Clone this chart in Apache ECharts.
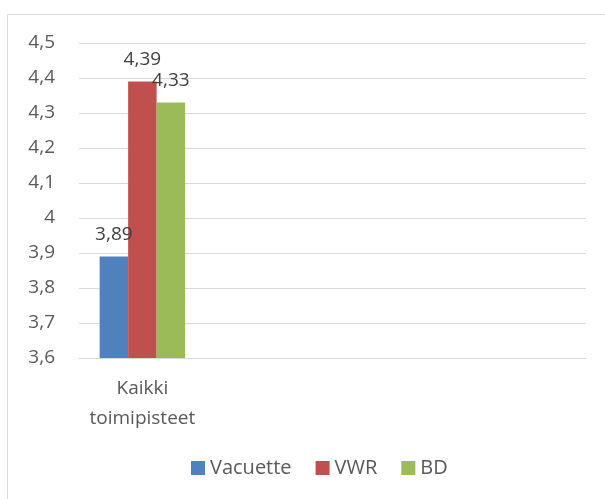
<!DOCTYPE html>
<html>
<head>
<meta charset="utf-8">
<script src="https://cdn.jsdelivr.net/npm/echarts@6/dist/echarts.min.js"></script>
<style>html,body{margin:0;padding:0;background:#fff}#c{width:605px;height:499px}</style>
</head>
<body>
<div id="c"></div>
<script>
const categories = ["Kaikki\ntoimipisteet", "", "", ""];
const seriesNames = ["Vacuette", "VWR", "BD"];
const vacuette = [3.89, null, null, null];
const vwr = [4.39, null, null, null];
const bd = [4.33, null, null, null];
const yTicks = [3.6, 3.7, 3.8, 3.9, 4.0, 4.1, 4.2, 4.3, 4.4, 4.5];

const colors = ["#4f81bd", "#c0504d", "#9bbb59"];
const font = "'Open Sans', Lato, sans-serif";
const txt = "#595959";
const fmt = v => String(v).replace('.', ',');

const chart = echarts.init(document.getElementById('c'), null, {renderer: 'canvas'});
const values = [vacuette, vwr, bd];
chart.setOption({
  animation: false,
  textStyle: {fontFamily: font},
  graphic: [{
    type: 'rect', shape: {x: 7.5, y: 14.5, width: 610, height: 500},
    style: {fill: 'none', stroke: '#d9d9d9', lineWidth: 1}, silent: true, z: -1
  }],
  grid: {left: 79, right: 19, top: 43, bottom: 141, containLabel: false},
  legend: {
    bottom: 16, left: 186, itemWidth: 14, itemHeight: 14, itemGap: 24,
    icon: 'rect',
    textStyle: {color: txt, fontSize: 20, fontFamily: font},
    data: seriesNames
  },
  xAxis: {
    type: 'category', data: categories,
    axisLine: {lineStyle: {color: '#d9d9d9', width: 1}},
    axisTick: {show: false},
    axisLabel: {color: txt, fontSize: 19, fontFamily: font, lineHeight: 30, margin: 16, interval: 0}
  },
  yAxis: {
    type: 'value', min: 3.6, max: 4.5, interval: 0.1,
    axisLine: {show: false}, axisTick: {show: false},
    splitLine: {lineStyle: {color: '#d9d9d9', width: 1}},
    axisLabel: {color: txt, fontSize: 19, fontFamily: font, margin: 24,
      formatter: v => fmt(Math.round(v * 10) / 10)}
  },
  series: seriesNames.map((n, i) => ({
    name: n, type: 'bar', data: values[i],
    itemStyle: {color: colors[i]},
    barWidth: 28.5, barGap: '0%',
    label: {show: true, position: 'top', distance: 12, color: '#404040', fontSize: 19, fontFamily: font,
      formatter: p => fmt(p.value)}
  }))
});
</script>
</body>
</html>
